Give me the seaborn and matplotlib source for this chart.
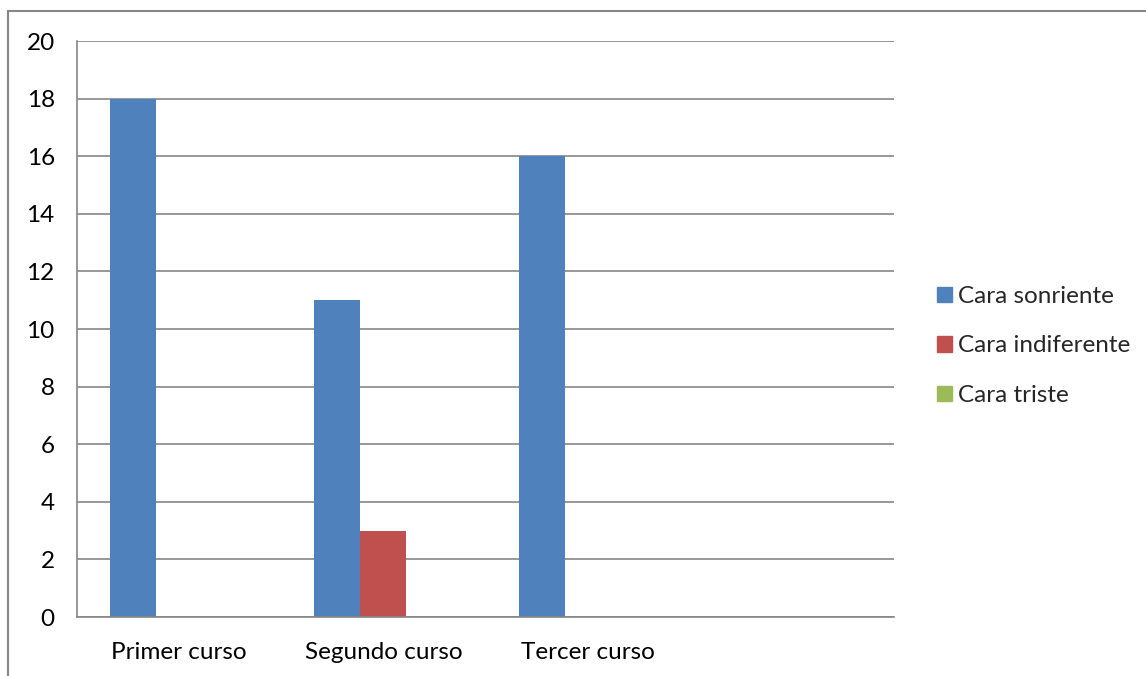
import pandas as pd
import matplotlib.pyplot as plt
import seaborn as sns
from matplotlib.lines import Line2D

# datos
cursos = ["Primer curso", "Segundo curso", "Tercer curso", " "]
series = ["Cara sonriente", "Cara indiferente", "Cara triste"]
sonriente = [18, 11, 16]
indiferente = [0, 3, 0]
triste = [0, 0, 0]
colores = ["#4F81BD", "#C0504D", "#9BBB59"]

filas = []
for serie, valores in zip(series, [sonriente, indiferente, triste]):
    for curso, v in zip(cursos[:3], valores):
        filas.append({"curso": curso, "serie": serie, "valor": v})
datos = pd.DataFrame(filas)

sns.set_style("white")
plt.rcParams["font.family"] = ["Lato", "DejaVu Sans"]

fig = plt.figure(figsize=(11.46, 6.76), dpi=100)
ax = fig.add_axes([77 / 1146, 1 - 617 / 676, (894 - 77) / 1146, (617 - 41) / 676])

sns.barplot(data=datos, x="curso", y="valor", hue="serie", order=cursos,
            hue_order=series, palette=colores, width=0.676, gap=0,
            linewidth=0, saturation=1, legend=False, ax=ax)

gris = "#868686"
ax.set_ylim(0, 20)
ax.set_xlim(-0.5, 3.5)
ax.set_yticks(range(0, 21, 2))
ax.yaxis.grid(True, color=gris, linewidth=1.2)
ax.set_axisbelow(True)
ax.set_xlabel("")
ax.set_ylabel("")
for lado in ["top", "right"]:
    ax.spines[lado].set_visible(False)
for lado in ["left", "bottom"]:
    ax.spines[lado].set_color(gris)
    ax.spines[lado].set_linewidth(1.2)

ax.set_xticks([-0.5, 0.5, 1.5, 2.5, 3.5], minor=True)
ax.tick_params(axis="x", which="major", length=0, pad=18, labelsize=17.5)
ax.tick_params(axis="x", which="minor", length=7, width=1.2, color=gris, direction="out")
ax.tick_params(axis="y", length=7, width=1.2, color=gris, direction="out", pad=9, labelsize=17.5)
ax.tick_params(colors="black", which="major", axis="both")
ax.tick_params(axis="both", which="major", color=gris)

manijas = [plt.Rectangle((0, 0), 1, 1, color=c) for c in colores]
fig.legend(manijas, series, loc="center left", bbox_to_anchor=(915 / 1146, 1 - 346 / 676),
           frameon=False, fontsize=17.5, handlelength=0.62, handleheight=0.62,
           handletextpad=0.25, labelspacing=1.17)

# marco exterior (solo se ven los bordes superior e izquierdo)
fig.add_artist(Line2D([8 / 1146, 1], [1 - 11 / 676, 1 - 11 / 676], color=gris, linewidth=1.5,
                      transform=fig.transFigure))
fig.add_artist(Line2D([8 / 1146, 8 / 1146], [0, 1 - 11 / 676], color=gris, linewidth=1.5,
                      transform=fig.transFigure))

fig.savefig("out.png", dpi=100)
